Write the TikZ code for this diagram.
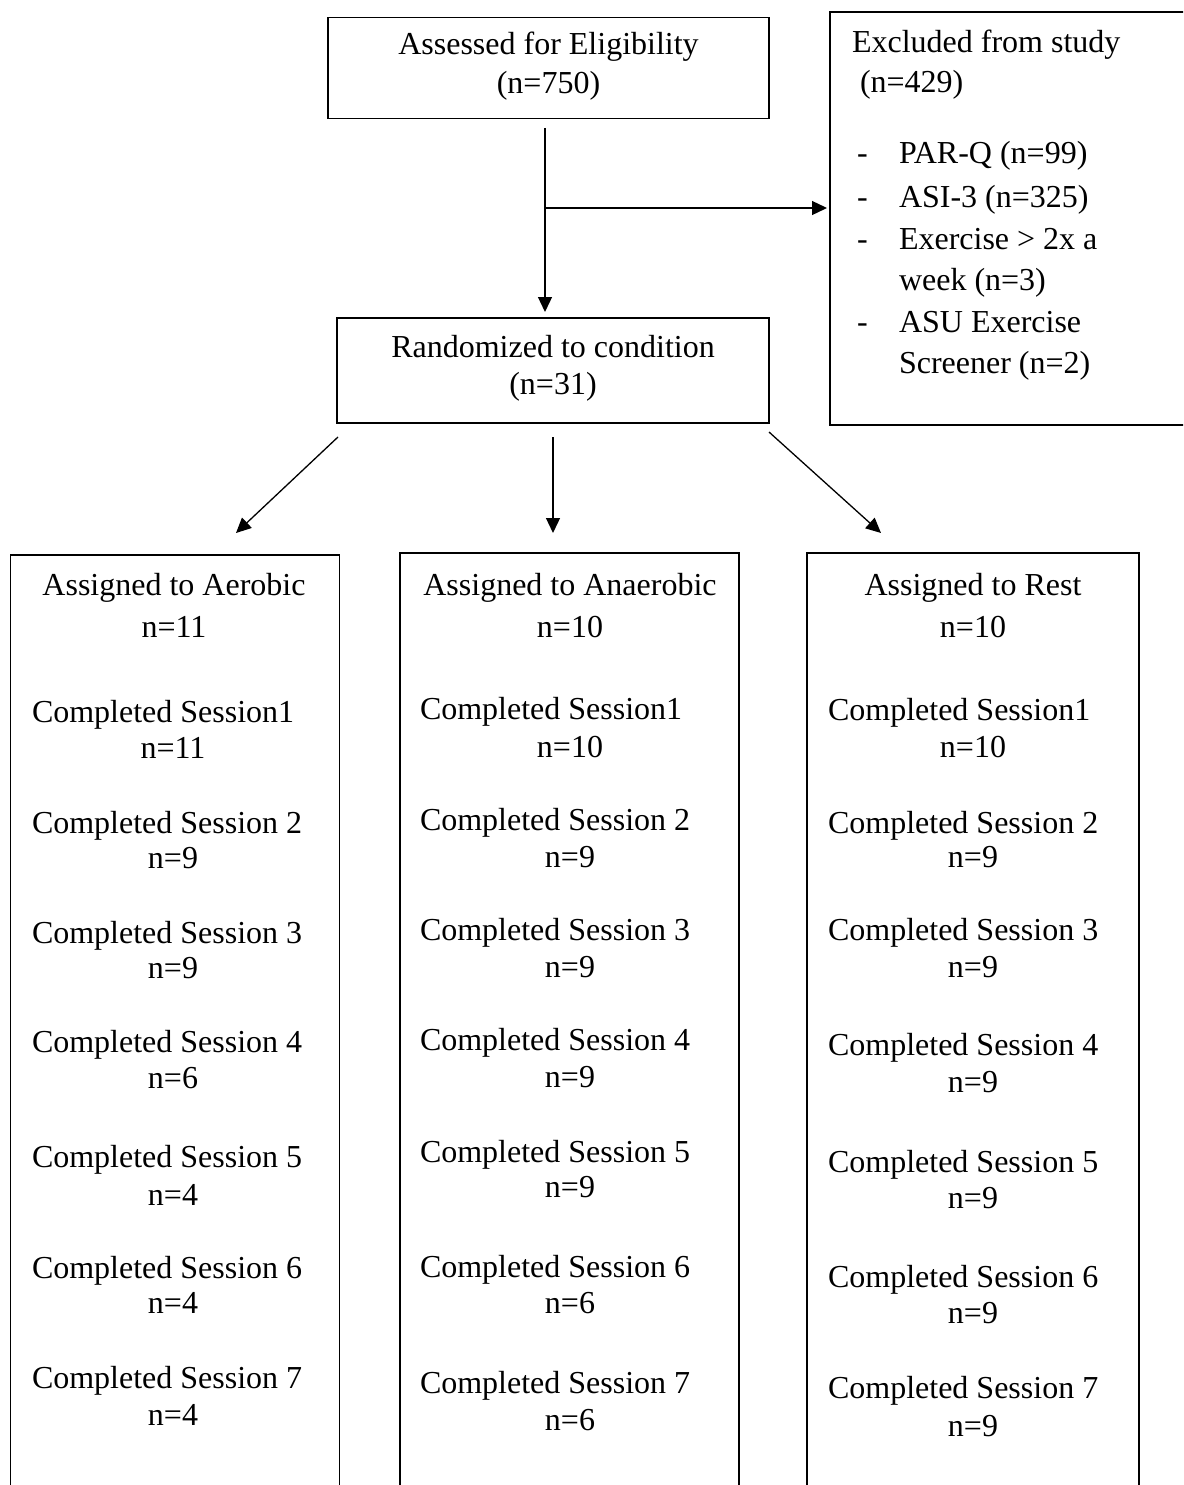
\documentclass[tikz,border=0pt]{standalone}
\usepackage{fontspec}
\setmainfont{Liberation Serif}
\usetikzlibrary{arrows.meta}
\tikzset{
  boxframe/.style={draw, line width=1.8pt, rectangle, inner sep=0pt, outer sep=0pt},
  colframe/.style={rectangle, inner sep=0pt, outer sep=0pt},
  txt/.style={font=\fontsize{32}{38}\selectfont, inner sep=0pt, outer sep=0pt, anchor=base},
  txtl/.style={txt, anchor=base west},
  conn/.style={line width=1.3pt, -{Triangle[length=15pt,width=14pt]}},
  sideline/.style={line width=1.8pt},
}
\begin{document}
\begin{tikzpicture}[x=1pt,y=-1pt]
\useasboundingbox (0,0) rectangle (1183,1485);
\clip (0,0) rectangle (1183,1485);
\fill[white] (0,0) rectangle (1183,1485);

% ---- top box
\node[boxframe, minimum width=441pt, minimum height=101pt] (assess) at (548.5,68) {};
\node[txt] (assessT1) at (548.5,55) {Assessed for Eligibility};
\node[txt] (assessT2) at (548.5,94) {(n=750)};

% ---- excluded box
\node[boxframe, minimum width=400pt, minimum height=413pt] (excl) at (1030,218.5) {};
\node[txtl] (exT1) at (852,53) {Excluded from study};
\node[txtl] (exT2) at (852,93) {\ (n=429)};
\foreach \k/\t/\yb in {1/PAR-Q (n=99)/164, 2/ASI-3 (n=325)/207, 3/Exercise > 2x a/249, 4/week (n=3)/290, 5/ASU Exercise/332, 6/Screener (n=2)/373}{
  \node[txtl] (exI\k) at (899,\yb) {\t};
}
\node[txtl] (exD1) at (857,164) {-};
\node[txtl] (exD2) at (857,207) {-};
\node[txtl] (exD3) at (857,249) {-};
\node[txtl] (exD5) at (857,332) {-};

% ---- randomized box
\node[boxframe, minimum width=432pt, minimum height=105pt] (rand) at (553,370.5) {};
\node[txt] (randT1) at (553,357) {Randomized to condition};
\node[txt] (randT2) at (553,394) {(n=31)};

% ---- connectors top
\coordinate (vs) at (545,128);
\coordinate (ve) at (545,312);
\coordinate (br) at (545,208);
\draw[conn] (vs) -- (ve);
\draw[conn, shorten >=3pt] (br) -- (excl.west |- br);

% ---- column boxes (open at the bottom)
\node[colframe, minimum width=329pt, minimum height=960pt, anchor=north west] (aer) at (10.5,555) {};
\node[colframe, minimum width=339pt, minimum height=960pt, anchor=north west] (ana) at (400,553) {};
\node[colframe, minimum width=332pt, minimum height=960pt, anchor=north west] (rest) at (807,553) {};
\foreach \b in {aer,ana,rest}{
  \draw[sideline] (\b.south west) -- (\b.north west) -- (\b.north east) -- (\b.south east);
}

% ---- branch arrows
\coordinate (d1s) at (338,437);
\coordinate (d1e) at (236,533);
\coordinate (d2s) at (553,437);
\coordinate (d2e) at (553,533);
\coordinate (d3s) at (769,432);
\coordinate (d3e) at (881,533);
\draw[conn] (d1s) -- (d1e);
\draw[conn] (d2s) -- (d2e);
\draw[conn] (d3s) -- (d3e);

% ---- column headings
\node[txt] (aerH) at (174,595) {Assigned to Aerobic};
\node[txt] (aerN) at (174,637) {n=11};
\node[txt] (anaH) at (570,595) {Assigned to Anaerobic};
\node[txt] (anaN) at (570,637) {n=10};
\node[txt] (restH) at (973,595) {Assigned to Rest};
\node[txt] (restN) at (973,637) {n=10};

% ---- aerobic sessions
\foreach \k/\t/\yb/\n/\yn in {
  1/Completed Session1/722/11/758,
  2/Completed Session 2/833/9/868,
  3/Completed Session 3/943/9/978,
  4/Completed Session 4/1052/6/1088,
  5/Completed Session 5/1167/4/1205,
  6/Completed Session 6/1278/4/1313,
  7/Completed Session 7/1388/4/1425}{
  \node[txtl] (aerS\k) at (32,\yb) {\t};
  \node[txt] (aerS\k n) at (173,\yn) {n=\n};
}
% ---- anaerobic sessions
\foreach \k/\t/\yb/\n/\yn in {
  1/Completed Session1/719/10/757,
  2/Completed Session 2/830/9/867,
  3/Completed Session 3/940/9/977,
  4/Completed Session 4/1050/9/1087,
  5/Completed Session 5/1162/9/1197,
  6/Completed Session 6/1277/6/1313,
  7/Completed Session 7/1393/6/1430}{
  \node[txtl] (anaS\k) at (420,\yb) {\t};
  \node[txt] (anaS\k n) at (570,\yn) {n=\n};
}
% ---- rest sessions
\foreach \k/\t/\yb/\n/\yn in {
  1/Completed Session1/720/10/757,
  2/Completed Session 2/833/9/867,
  3/Completed Session 3/940/9/977,
  4/Completed Session 4/1055/9/1092,
  5/Completed Session 5/1172/9/1208,
  6/Completed Session 6/1287/9/1323,
  7/Completed Session 7/1398/9/1436}{
  \node[txtl] (restS\k) at (828,\yb) {\t};
  \node[txt] (restS\k n) at (973,\yn) {n=\n};
}
\end{tikzpicture}
\end{document}
